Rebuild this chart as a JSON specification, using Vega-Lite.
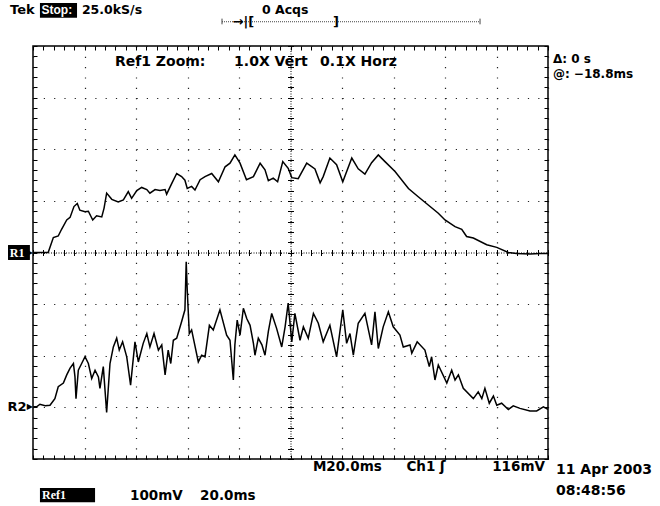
{
  "$schema": "https://vega.github.io/schema/vega-lite/v6.json",
  "width": 515,
  "height": 413,
  "autosize": {"type": "none"},
  "padding": {"left": 33, "top": 46, "right": 112, "bottom": 47},
  "background": "white",
  "data": {"values": [{}]},
  "config": {
    "view": {"stroke": "black", "strokeWidth": 1.5},
    "text": {"font": "DejaVu Sans", "fontSize": 13, "fontWeight": "bold", "color": "black", "baseline": "middle", "align": "left"}
  },
  "datasets": {
    "r1": [
      {"t":0,"v":0},{"t":5.9,"v":0},{"t":7.9,"v":0.29},{"t":9.8,"v":0.32},{"t":11.1,"v":0.45},{"t":13.1,"v":0.63},{"t":14.4,"v":0.68},{"t":15.9,"v":0.89},{"t":17.2,"v":0.95},{"t":18.2,"v":0.82},{"t":20.2,"v":0.79},{"t":21.5,"v":0.8},{"t":23.2,"v":0.63},{"t":24.7,"v":0.71},{"t":26.7,"v":0.69},{"t":27.6,"v":0.86},{"t":28.6,"v":1.15},{"t":30.6,"v":1.03},{"t":33.1,"v":0.98},{"t":35.1,"v":1.02},{"t":37,"v":1.18},{"t":38.3,"v":1.05},{"t":40.3,"v":1.2},{"t":42.2,"v":1.26},{"t":44.2,"v":1.22},{"t":45.4,"v":1.15},{"t":47.4,"v":1.22},{"t":49.3,"v":1.2},{"t":51.3,"v":1.22},{"t":51.9,"v":1.13},{"t":53.9,"v":1.34},{"t":55.8,"v":1.53},{"t":57.7,"v":1.47},{"t":59,"v":1.4},{"t":59.9,"v":1.24},{"t":61.6,"v":1.28},{"t":62.9,"v":1.21},{"t":64.9,"v":1.41},{"t":66.8,"v":1.47},{"t":69.4,"v":1.53},{"t":72,"v":1.37},{"t":74.6,"v":1.66},{"t":76.5,"v":1.73},{"t":78.4,"v":1.89},{"t":80.4,"v":1.73},{"t":82.9,"v":1.41},{"t":85.6,"v":1.47},{"t":88.2,"v":1.73},{"t":90.1,"v":1.6},{"t":91.4,"v":1.39},{"t":93.3,"v":1.44},{"t":95,"v":1.37},{"t":97,"v":1.76},{"t":99.1,"v":1.63},{"t":100.5,"v":1.45},{"t":103,"v":1.43},{"t":106.3,"v":1.73},{"t":109.5,"v":1.62},{"t":111.5,"v":1.35},{"t":112.7,"v":1.47},{"t":115.3,"v":1.83},{"t":117.9,"v":1.7},{"t":120.3,"v":1.37},{"t":123.8,"v":1.83},{"t":126.3,"v":1.62},{"t":128.9,"v":1.52},{"t":131.5,"v":1.74},{"t":134.1,"v":1.89},{"t":136.7,"v":1.76},{"t":140.6,"v":1.57},{"t":145.8,"v":1.24},{"t":149.6,"v":1.08},{"t":153.5,"v":0.92},{"t":157.4,"v":0.76},{"t":160,"v":0.63},{"t":163.9,"v":0.5},{"t":166.5,"v":0.45},{"t":168.4,"v":0.31},{"t":171,"v":0.28},{"t":176.2,"v":0.15},{"t":180.1,"v":0.1},{"t":184.6,"v":0},{"t":187.8,"v":-0.02},{"t":193,"v":-0.03},{"t":196.9,"v":-0.02},{"t":200,"v":-0.02}
    ],
    "r2": [
      {"t":0.1,"v":-2.99},{"t":1.4,"v":-2.99},{"t":2.7,"v":-2.94},{"t":4.7,"v":-2.97},{"t":6.6,"v":-2.96},{"t":8.5,"v":-2.83},{"t":9.8,"v":-2.6},{"t":11.8,"v":-2.53},{"t":13.1,"v":-2.37},{"t":14.4,"v":-2.24},{"t":15.7,"v":-2.15},{"t":16.3,"v":-2.41},{"t":16.7,"v":-2.83},{"t":17.6,"v":-2.28},{"t":18.9,"v":-2.15},{"t":20.2,"v":-2.02},{"t":21.5,"v":-2.15},{"t":22.8,"v":-2.44},{"t":24.1,"v":-2.28},{"t":25.4,"v":-2.41},{"t":26,"v":-2.63},{"t":27.3,"v":-2.21},{"t":28.6,"v":-3.1},{"t":29.9,"v":-2.15},{"t":31.2,"v":-1.83},{"t":32.5,"v":-1.66},{"t":33.5,"v":-1.89},{"t":34.8,"v":-1.73},{"t":36.4,"v":-2.02},{"t":37.9,"v":-2.57},{"t":39.6,"v":-1.73},{"t":40.9,"v":-2.12},{"t":42.8,"v":-1.76},{"t":44.2,"v":-1.57},{"t":45.4,"v":-1.83},{"t":47,"v":-1.57},{"t":48.7,"v":-1.89},{"t":50,"v":-1.79},{"t":51.3,"v":-2.37},{"t":52.5,"v":-1.89},{"t":53.5,"v":-2.15},{"t":54.5,"v":-1.7},{"t":55.8,"v":-1.66},{"t":57.7,"v":-1.34},{"t":59,"v":-1.11},{"t":59.5,"v":-0.18},{"t":59.9,"v":-0.73},{"t":60.7,"v":-1.57},{"t":61.6,"v":-1.5},{"t":64.2,"v":-2.12},{"t":65.5,"v":-1.99},{"t":66.8,"v":-2.02},{"t":68.5,"v":-1.41},{"t":70,"v":-1.5},{"t":72.6,"v":-1.11},{"t":75.2,"v":-1.6},{"t":76.5,"v":-1.7},{"t":77.8,"v":-2.47},{"t":78.4,"v":-1.79},{"t":79.3,"v":-1.31},{"t":80.4,"v":-1.6},{"t":81.7,"v":-1.08},{"t":83,"v":-1.28},{"t":84.3,"v":-1.41},{"t":85.6,"v":-1.76},{"t":86.2,"v":-1.99},{"t":87.5,"v":-1.66},{"t":88.9,"v":-1.79},{"t":90.1,"v":-1.99},{"t":91.4,"v":-1.53},{"t":92.7,"v":-1.18},{"t":94.6,"v":-1.47},{"t":96.6,"v":-1.83},{"t":97.9,"v":-1.44},{"t":99.1,"v":-0.98},{"t":100.5,"v":-1.73},{"t":101.7,"v":-1.18},{"t":103.7,"v":-1.7},{"t":105,"v":-1.44},{"t":106.9,"v":-1.66},{"t":108.9,"v":-1.18},{"t":110.8,"v":-1.37},{"t":112.7,"v":-1.73},{"t":115.3,"v":-1.41},{"t":117.9,"v":-2.02},{"t":120.3,"v":-1.11},{"t":121.8,"v":-1.76},{"t":123.1,"v":-1.57},{"t":124.4,"v":-1.99},{"t":126.3,"v":-1.37},{"t":128.9,"v":-1.18},{"t":131.5,"v":-1.79},{"t":132.8,"v":-1.15},{"t":134.1,"v":-1.86},{"t":136,"v":-1.44},{"t":138,"v":-1.15},{"t":139.9,"v":-1.44},{"t":142.5,"v":-1.6},{"t":143.8,"v":-1.83},{"t":146.4,"v":-1.79},{"t":147.1,"v":-1.95},{"t":149.2,"v":-1.73},{"t":152.2,"v":-1.89},{"t":153.9,"v":-2.21},{"t":154.8,"v":-2.02},{"t":156.1,"v":-2.47},{"t":157.4,"v":-2.18},{"t":160.7,"v":-2.53},{"t":162.6,"v":-2.28},{"t":163.9,"v":-2.47},{"t":165.2,"v":-2.37},{"t":167.1,"v":-2.63},{"t":171,"v":-2.83},{"t":172.9,"v":-2.7},{"t":174.3,"v":-2.83},{"t":175.5,"v":-2.63},{"t":177.2,"v":-2.92},{"t":178.8,"v":-2.78},{"t":180.1,"v":-2.96},{"t":182,"v":-2.92},{"t":184.6,"v":-3.04},{"t":186.5,"v":-2.97},{"t":189.1,"v":-3.02},{"t":193,"v":-3.07},{"t":195.6,"v":-3.07},{"t":198.2,"v":-2.99},{"t":200,"v":-3.04}
    ]
  },
  "resolve": {"axis": {"x": "independent", "y": "independent"}},
  "layer": [
    {
      "data": {"name": "r1"},
      "mark": {"type": "line", "color": "black", "strokeWidth": 1.5},
      "encoding": {
        "x": {"field": "t", "type": "quantitative", "scale": {"domain": [0, 200], "nice": false, "zero": false},
          "axis": {"orient": "bottom", "values": [0,4,8,12,16,20,24,28,32,36,40,44,48,52,56,60,64,68,72,76,80,84,88,92,96,100,104,108,112,116,120,124,128,132,136,140,144,148,152,156,160,164,168,172,176,180,184,188,192,196,200], "tickSize": -4, "tickColor": "black", "tickWidth": 1, "labels": false, "domain": false, "grid": false, "title": null}},
        "y": {"field": "v", "type": "quantitative", "scale": {"domain": [-4, 4], "nice": false, "zero": false},
          "axis": {"orient": "left", "values": [-4,-3.8,-3.6,-3.4,-3.2,-3,-2.8,-2.6,-2.4,-2.2,-2,-1.8,-1.6,-1.4,-1.2,-1,-0.8,-0.6,-0.4,-0.2,0,0.2,0.4,0.6,0.8,1,1.2,1.4,1.6,1.8,2,2.2,2.4,2.6,2.8,3,3.2,3.4,3.6,3.8,4], "tickSize": -4, "tickColor": "black", "tickWidth": 1, "labels": false, "domain": false, "grid": false, "title": null}}
      }
    },
    {
      "data": {"name": "r2"},
      "mark": {"type": "line", "color": "black", "strokeWidth": 1.5},
      "encoding": {
        "x": {"field": "t", "type": "quantitative",
          "axis": {"orient": "top", "values": [0,4,8,12,16,20,24,28,32,36,40,44,48,52,56,60,64,68,72,76,80,84,88,92,96,100,104,108,112,116,120,124,128,132,136,140,144,148,152,156,160,164,168,172,176,180,184,188,192,196,200], "tickSize": -4, "tickColor": "black", "tickWidth": 1, "labels": false, "domain": false, "grid": false, "title": null}},
        "y": {"field": "v", "type": "quantitative",
          "axis": {"orient": "right", "values": [-4,-3.8,-3.6,-3.4,-3.2,-3,-2.8,-2.6,-2.4,-2.2,-2,-1.8,-1.6,-1.4,-1.2,-1,-0.8,-0.6,-0.4,-0.2,0,0.2,0.4,0.6,0.8,1,1.2,1.4,1.6,1.8,2,2.2,2.4,2.6,2.8,3,3.2,3.4,3.6,3.8,4], "tickSize": -4, "tickColor": "black", "tickWidth": 1, "labels": false, "domain": false, "grid": false, "title": null}}
      }
    },
    {
      "mark": {"type": "text", "text": "Ref1 Zoom:", "fontSize": 14},
      "encoding": {
        "x": {"datum": 31.8, "type": "quantitative",
          "axis": {"orient": "bottom", "values": [0,20,40,60,80,100,120,140,160,180,200], "grid": true, "gridDash": [1.2, 9.1], "gridColor": "#222", "gridWidth": 1.2, "ticks": false, "labels": false, "domain": false, "title": null}},
        "y": {"datum": 3.69, "type": "quantitative",
          "axis": {"orient": "left", "values": [-4,-3,-2,-1,0,1,2,3,4], "grid": true, "gridDash": [1.2, 9.1], "gridColor": "#222", "gridWidth": 1.2, "ticks": false, "labels": false, "domain": false, "title": null}}
      }
    },
    {
      "mark": {"type": "text", "text": "1.0X Vert", "fontSize": 14},
      "encoding": {
        "x": {"datum": 78.1, "type": "quantitative",
          "axis": {"orient": "bottom", "offset": -206.5, "values": [0,4,8,12,16,20,24,28,32,36,40,44,48,52,56,60,64,68,72,76,80,84,88,92,96,100,104,108,112,116,120,124,128,132,136,140,144,148,152,156,160,164,168,172,176,180,184,188,192,196,200], "tickSize": 3, "tickColor": "black", "tickWidth": 1, "domain": true, "domainDash": [1, 1.5], "domainColor": "black", "domainWidth": 1, "labels": false, "grid": false, "title": null}},
        "y": {"datum": 3.69, "type": "quantitative",
          "axis": {"orient": "left", "offset": -257.5, "values": [-4,-3.8,-3.6,-3.4,-3.2,-3,-2.8,-2.6,-2.4,-2.2,-2,-1.8,-1.6,-1.4,-1.2,-1,-0.8,-0.6,-0.4,-0.2,0,0.2,0.4,0.6,0.8,1,1.2,1.4,1.6,1.8,2,2.2,2.4,2.6,2.8,3,3.2,3.4,3.6,3.8,4], "tickSize": 3, "tickColor": "black", "tickWidth": 1, "domain": true, "domainDash": [1, 1.5], "domainColor": "black", "domainWidth": 1, "labels": false, "grid": false, "title": null}}
      }
    },
    {
      "mark": {"type": "text", "text": "0.1X Horz", "fontSize": 14},
      "encoding": {
        "x": {"datum": 111.5, "type": "quantitative",
          "axis": {"orient": "top", "offset": -206.5, "values": [0,4,8,12,16,20,24,28,32,36,40,44,48,52,56,60,64,68,72,76,80,84,88,92,96,100,104,108,112,116,120,124,128,132,136,140,144,148,152,156,160,164,168,172,176,180,184,188,192,196,200], "tickSize": 3, "tickColor": "black", "tickWidth": 1, "domain": false, "labels": false, "grid": false, "title": null}},
        "y": {"datum": 3.69, "type": "quantitative",
          "axis": {"orient": "right", "offset": -257.5, "values": [-4,-3.8,-3.6,-3.4,-3.2,-3,-2.8,-2.6,-2.4,-2.2,-2,-1.8,-1.6,-1.4,-1.2,-1,-0.8,-0.6,-0.4,-0.2,0,0.2,0.4,0.6,0.8,1,1.2,1.4,1.6,1.8,2,2.2,2.4,2.6,2.8,3,3.2,3.4,3.6,3.8,4], "tickSize": 3, "tickColor": "black", "tickWidth": 1, "domain": false, "labels": false, "grid": false, "title": null}}
      }
    },
    {
      "mark": {"type": "text", "text": "Tek", "fontSize": 13},
      "encoding": {"x": {"datum": -8.9, "type": "quantitative", "axis": null}, "y": {"datum": 4.7, "type": "quantitative", "axis": null}}
    },
    {
      "mark": {"type": "rect", "color": "black"},
      "encoding": {"x": {"datum": 2.7, "type": "quantitative", "axis": null}, "x2": {"datum": 17.1}, "y": {"datum": 4.835, "type": "quantitative", "axis": null}, "y2": {"datum": 4.545}}
    },
    {
      "mark": {"type": "text", "text": "Stop:", "fontSize": 12, "color": "white", "font": "Liberation Sans"},
      "encoding": {"x": {"datum": 3.3, "type": "quantitative", "axis": null}, "y": {"datum": 4.7, "type": "quantitative", "axis": null}}
    },
    {
      "mark": {"type": "text", "text": "25.0kS/s", "fontSize": 12.5},
      "encoding": {"x": {"datum": 19.0, "type": "quantitative", "axis": null}, "y": {"datum": 4.7, "type": "quantitative", "axis": null}}
    },
    {
      "mark": {"type": "text", "text": "0 Acqs", "fontSize": 12.5},
      "encoding": {"x": {"datum": 88.9, "type": "quantitative", "axis": null}, "y": {"datum": 4.7, "type": "quantitative", "axis": null}}
    },
    {
      "mark": {"type": "rule", "color": "#444", "strokeDash": [1, 1], "strokeWidth": 1},
      "encoding": {"x": {"datum": 73.4, "type": "quantitative", "axis": null}, "x2": {"datum": 173.6}, "y": {"datum": 4.47, "type": "quantitative", "axis": null}}
    },
    {
      "mark": {"type": "rule", "color": "#444", "strokeWidth": 1},
      "encoding": {"x": {"datum": 73.4, "type": "quantitative", "axis": null}, "y": {"datum": 4.42, "type": "quantitative", "axis": null}, "y2": {"datum": 4.53}}
    },
    {
      "mark": {"type": "rule", "color": "#444", "strokeWidth": 1},
      "encoding": {"x": {"datum": 173.6, "type": "quantitative", "axis": null}, "y": {"datum": 4.42, "type": "quantitative", "axis": null}, "y2": {"datum": 4.53}}
    },
    {
      "mark": {"type": "text", "text": "→|[", "fontSize": 13},
      "encoding": {"x": {"datum": 77.5, "type": "quantitative", "axis": null}, "y": {"datum": 4.46, "type": "quantitative", "axis": null}}
    },
    {
      "mark": {"type": "text", "text": "]", "fontSize": 13},
      "encoding": {"x": {"datum": 116.5, "type": "quantitative", "axis": null}, "y": {"datum": 4.46, "type": "quantitative", "axis": null}}
    },
    {
      "mark": {"type": "text", "text": "Δ: 0 s", "fontSize": 12},
      "encoding": {"x": {"datum": 201.9, "type": "quantitative", "axis": null}, "y": {"datum": 3.75, "type": "quantitative", "axis": null}}
    },
    {
      "mark": {"type": "text", "text": "@: −18.8ms", "fontSize": 12},
      "encoding": {"x": {"datum": 201.9, "type": "quantitative", "axis": null}, "y": {"datum": 3.45, "type": "quantitative", "axis": null}}
    },
    {
      "mark": {"type": "rect", "color": "black"},
      "encoding": {"x": {"datum": -9.7, "type": "quantitative", "axis": null}, "x2": {"datum": -1.2}, "y": {"datum": 0.145, "type": "quantitative", "axis": null}, "y2": {"datum": -0.145}}
    },
    {
      "mark": {"type": "text", "text": "R1", "fontSize": 12, "color": "white", "font": "Liberation Serif"},
      "encoding": {"x": {"datum": -9.0, "type": "quantitative", "axis": null}, "y": {"datum": 0, "type": "quantitative", "axis": null}}
    },
    {
      "mark": {"type": "text", "text": "▶", "fontSize": 8, "align": "right"},
      "encoding": {"x": {"datum": 0, "type": "quantitative", "axis": null}, "y": {"datum": 0, "type": "quantitative", "axis": null}}
    },
    {
      "mark": {"type": "text", "text": "R2", "fontSize": 13},
      "encoding": {"x": {"datum": -9.9, "type": "quantitative", "axis": null}, "y": {"datum": -2.99, "type": "quantitative", "axis": null}}
    },
    {
      "mark": {"type": "text", "text": "▶", "fontSize": 8, "align": "right"},
      "encoding": {"x": {"datum": 0, "type": "quantitative", "axis": null}, "y": {"datum": -2.99, "type": "quantitative", "axis": null}}
    },
    {
      "mark": {"type": "text", "text": "M20.0ms", "fontSize": 13.5},
      "encoding": {"x": {"datum": 108.7, "type": "quantitative", "axis": null}, "y": {"datum": -4.16, "type": "quantitative", "axis": null}}
    },
    {
      "mark": {"type": "text", "text": "Ch1", "fontSize": 13.5},
      "encoding": {"x": {"datum": 145.0, "type": "quantitative", "axis": null}, "y": {"datum": -4.16, "type": "quantitative", "axis": null}}
    },
    {
      "mark": {"type": "text", "text": "ʃ", "fontSize": 14},
      "encoding": {"x": {"datum": 158.0, "type": "quantitative", "axis": null}, "y": {"datum": -4.16, "type": "quantitative", "axis": null}}
    },
    {
      "mark": {"type": "text", "text": "116mV", "fontSize": 13.5, "align": "right"},
      "encoding": {"x": {"datum": 198.8, "type": "quantitative", "axis": null}, "y": {"datum": -4.16, "type": "quantitative", "axis": null}}
    },
    {
      "mark": {"type": "text", "text": "11 Apr 2003", "fontSize": 14},
      "encoding": {"x": {"datum": 203.1, "type": "quantitative", "axis": null}, "y": {"datum": -4.21, "type": "quantitative", "axis": null}}
    },
    {
      "mark": {"type": "text", "text": "08:48:56", "fontSize": 14},
      "encoding": {"x": {"datum": 203.1, "type": "quantitative", "axis": null}, "y": {"datum": -4.62, "type": "quantitative", "axis": null}}
    },
    {
      "mark": {"type": "rect", "color": "black"},
      "encoding": {"x": {"datum": 2.7, "type": "quantitative", "axis": null}, "x2": {"datum": 24.1}, "y": {"datum": -4.56, "type": "quantitative", "axis": null}, "y2": {"datum": -4.84}}
    },
    {
      "mark": {"type": "text", "text": "Ref1", "fontSize": 12, "color": "white", "font": "Liberation Serif"},
      "encoding": {"x": {"datum": 3.5, "type": "quantitative", "axis": null}, "y": {"datum": -4.70, "type": "quantitative", "axis": null}}
    },
    {
      "mark": {"type": "text", "text": "100mV", "fontSize": 13.5},
      "encoding": {"x": {"datum": 37.7, "type": "quantitative", "axis": null}, "y": {"datum": -4.72, "type": "quantitative", "axis": null}}
    },
    {
      "mark": {"type": "text", "text": "20.0ms", "fontSize": 13.5},
      "encoding": {"x": {"datum": 64.9, "type": "quantitative", "axis": null}, "y": {"datum": -4.72, "type": "quantitative", "axis": null}}
    }
  ]
}
